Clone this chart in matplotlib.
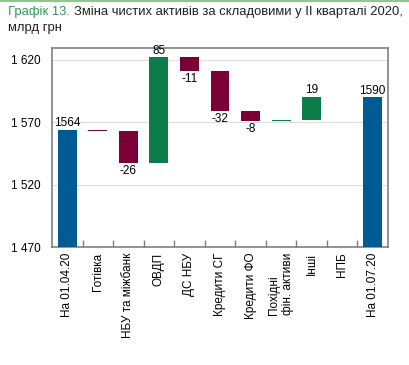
import numpy as np
import matplotlib.pyplot as plt
from matplotlib.ticker import FuncFormatter, NullFormatter

categories = ["На 01.04.20", "Готівка", "НБУ та міжбанк", "ОВДП", "ДС НБУ",
              "Кредити СГ", "Кредити ФО", "Похідні\nфін. активи", "Інші", "НПБ",
              "На 01.07.20"]
start_value = 1564
changes = [-1, -26, 85, -11, -32, -8, 0.4, 19, 0]
end_value = 1590
labels = ["1564", "", "-26", "85", "-11", "-32", "-8", "", "19", "", "1590"]

BLUE = "#005A93"
RED = "#7B0036"
GREEN = "#0A7D48"

plt.rcParams["font.family"] = ["Liberation Sans", "DejaVu Sans"]

fig = plt.figure(figsize=(4.09, 3.65), dpi=100)
ax = fig.add_axes([52 / 409, 1 - 247 / 365, 336 / 409, 199 / 365])

ymin = 1470
bottoms, heights, colors = [ymin], [start_value - ymin], [BLUE]
level = start_value
for c in changes:
    if c >= 0:
        bottoms.append(level)
        heights.append(c)
        colors.append(GREEN)
    else:
        bottoms.append(level + c)
        heights.append(-c)
        colors.append(RED)
    level += c
bottoms.append(ymin)
heights.append(end_value - ymin)
colors.append(BLUE)

x = np.arange(len(categories))
ax.bar(x, heights, bottom=bottoms, width=0.62, color=colors, zorder=3,
       clip_on=False)

for i, lab in enumerate(labels):
    if not lab:
        continue
    top = bottoms[i] + heights[i]
    if lab.startswith("-"):
        ax.text(x[i], bottoms[i] - 1.5, lab, ha="center", va="top", fontsize=8.5)
    else:
        ax.text(x[i], top + 0.5, lab, ha="center", va="bottom", fontsize=8.5)

ax.set_ylim(ymin, 1629.5)
ax.set_xlim(-0.5, len(categories) - 0.5)
ax.set_yticks([1470, 1520, 1570, 1620])
ax.yaxis.set_major_formatter(FuncFormatter(lambda v, p: f"{int(v):,}".replace(",", " ")))
ax.tick_params(axis="y", length=0, labelsize=8.5, pad=8)
ax.grid(axis="y", color="#dddddd", linewidth=0.8, zorder=0)

# tick marks at category boundaries (major), labels at centers (minor)
ax.set_xticks(np.arange(0.5, len(categories) - 1))
ax.xaxis.set_major_formatter(NullFormatter())
ax.tick_params(axis="x", which="major", direction="in", length=5, width=1,
               color="#808080")
ax.set_xticks(x, minor=True)
ax.set_xticklabels(categories, minor=True, rotation=90, fontsize=8.5, va="top",
                   ha="center", multialignment="left")
ax.tick_params(axis="x", which="minor", length=0, pad=4)

for s in ax.spines.values():
    s.set_color("#808080")
    s.set_linewidth(1.2)

# title: green prefix followed by the dark main text
t1 = fig.text(8 / 409, 1 - 12 / 365, "Графік 13.", color="#2E9B5A", fontsize=9.4, va="center")
fig.canvas.draw()
bb = t1.get_window_extent()
fig.text(bb.x1 / fig.bbox.width + 4 / 409, 1 - 12 / 365,
         "Зміна чистих активів за складовими у II кварталі 2020,",
         color="#222222", fontsize=9.4, va="center")
fig.text(8 / 409, 1 - 28 / 365, "млрд грн", color="#222222", fontsize=9.4, va="center")
fig.add_artist(plt.Line2D([0, 1], [1 - 0.5 / 365, 1 - 0.5 / 365], color="#8DC98F",
                          linewidth=1.5, transform=fig.transFigure))

fig.savefig("out.png", dpi=100)
